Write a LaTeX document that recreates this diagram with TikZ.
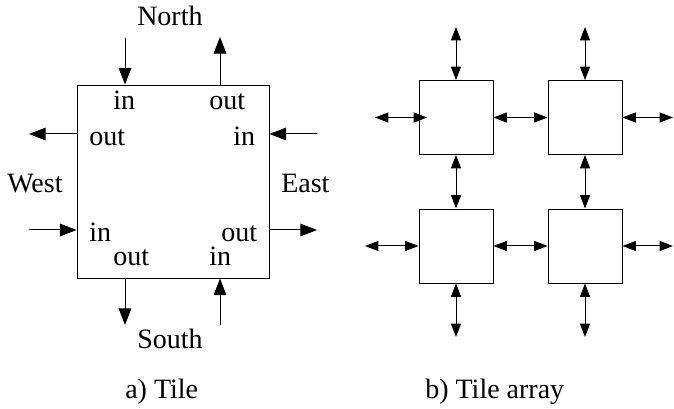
\documentclass[tikz,border=0pt]{standalone}
\usepackage{fontspec}
\setmainfont{Liberation Serif}
\usetikzlibrary{arrows.meta}
\begin{document}
\begin{tikzpicture}[x=0.75pt,y=-0.75pt,
  lbl/.style={inner sep=0pt,anchor=base west,font=\fontsize{21}{25}\selectfont},
  tilebox/.style={draw,line width=0.7pt,inner sep=0pt},
  bigarrow/.style={line width=0.75pt,-{Triangle[length=12.5pt,width=9.5pt]}},
  dblarrow/.style={line width=0.75pt,{Triangle[length=10pt,width=7.5pt]}-{Triangle[length=10pt,width=7.5pt]}}]
\useasboundingbox (0,0) rectangle (674,409);
% ---- a) Tile ----
\node[tilebox,minimum width=144pt,minimum height=144.75pt] (T) at (173,181.5) {};
\coordinate (Nin) at (125,38);
\coordinate (Nout) at (220,37);
\coordinate (Wout) at (29,134);
\coordinate (Win) at (29,230);
\coordinate (Ein) at (317,134);
\coordinate (Eout) at (317,230);
\coordinate (Sout) at (125,325);
\coordinate (Sin) at (220,325);
\draw[bigarrow] (Nin) -- (Nin |- T.north);
\draw[bigarrow] (Nout |- T.north) -- (Nout);
\draw[bigarrow] (Wout -| T.west) -- (Wout);
\draw[bigarrow] (Win) -- (Win -| T.west);
\draw[bigarrow] (Ein) -- (Ein -| T.east);
\draw[bigarrow] (Eout -| T.east) -- (Eout);
\draw[bigarrow] (Sout |- T.south) -- (Sout);
\draw[bigarrow] (Sin) -- (Sin |- T.south);
\node[lbl] (north) at (137,26) {North};
\node[lbl] (west) at (7,193) {West};
\node[lbl] (east) at (281,193) {East};
\node[lbl] (south) at (137,349) {South};
\node[lbl] (l1) at (113,110) {in};
\node[lbl] (l2) at (209,110) {out};
\node[lbl] (l3) at (89,146) {out};
\node[lbl] (l4) at (233,146) {in};
\node[lbl] (l5) at (89,242) {in};
\node[lbl] (l6) at (221,242) {out};
\node[lbl] (l7) at (113,266) {out};
\node[lbl] (l8) at (209,266) {in};
\node[lbl] (capa) at (125,398) {a) Tile};
% ---- b) Tile array ----
\tikzset{smallbox/.style={tilebox,minimum size=55.5pt}}
\node[smallbox] (A) at (456,117.5) {};
\node[smallbox] (B) at (585,117.5) {};
\node[smallbox] (C) at (456,246) {};
\node[smallbox] (D) at (585,246) {};
\coordinate (At) at (456,27);
\coordinate (Bt) at (585,27);
\coordinate (Cb) at (456,337);
\coordinate (Db) at (585,337);
\coordinate (Al) at (375,117.5);
\coordinate (Ali) at (427,117.5);
\coordinate (Br) at (673,117.5);
\coordinate (Cl) at (365,246);
\coordinate (Dr) at (673,246);
\draw[dblarrow] (At) -- (A.north);
\draw[dblarrow] (Bt) -- (B.north);
\draw[dblarrow] (A.south) -- (C.north);
\draw[dblarrow] (B.south) -- (D.north);
\draw[dblarrow] (C.south) -- (Cb);
\draw[dblarrow] (D.south) -- (Db);
\draw[dblarrow] (Al) -- (Ali);
\draw[dblarrow] (A.east) -- (B.west);
\draw[dblarrow] (B.east) -- (Br);
\draw[dblarrow] (Cl) -- (C.west);
\draw[dblarrow] (C.east) -- (D.west);
\draw[dblarrow] (D.east) -- (Dr);
\node[lbl] (capb) at (425,398) {b) Tile array};
\end{tikzpicture}
\end{document}
